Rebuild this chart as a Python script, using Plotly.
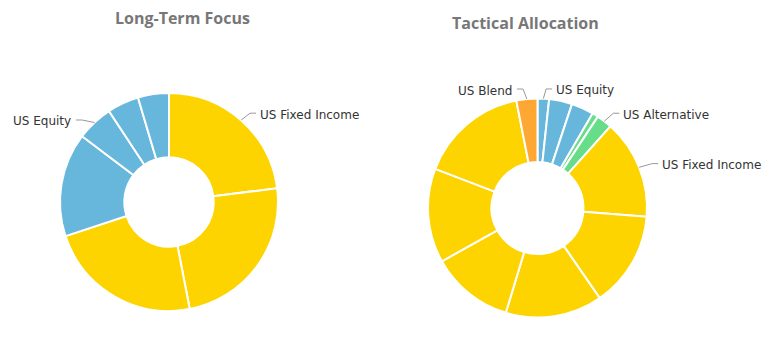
import math
import plotly.graph_objects as go

# ---------------- data ----------------
lt_labels = ["US Fixed Income", "US Fixed Income", "US Fixed Income",
             "US Equity", "US Equity", "US Equity", "US Equity"]
lt_values = [23.0, 24.0, 23.0, 15.4, 5.4, 4.7, 4.6]

ta_labels = ["US Equity", "US Equity", "US Equity",
             "US Alternative", "US Alternative",
             "US Fixed Income", "US Fixed Income", "US Fixed Income",
             "US Fixed Income", "US Fixed Income", "US Fixed Income",
             "US Blend"]
ta_values = [1.7, 3.4, 3.3, 0.9, 2.3, 14.7, 14.1, 14.3, 12.25, 13.9, 16.1, 3.1]

category_colors = {
    "US Fixed Income": "#fdd400",
    "US Equity": "#67b7dc",
    "US Alternative": "#67dd8a",
    "US Blend": "#ffa733",
}

# ---------------- layout helpers ----------------
W, H = 778, 339
charts = [
    dict(title="Long-Term Focus", labels=lt_labels, values=lt_values,
         cx=169, cy=202, r=109, hole=0.41, title_pos=(182, 18),
         # (slice index, label offset dx, dy from the slice's outer edge, side)
         callouts=[(0, 19, -7, 1), (4, -22.5, -2.5, -1)]),
    dict(title="Tactical Allocation", labels=ta_labels, values=ta_values,
         cx=537.5, cy=208, r=109.5, hole=0.42, title_pos=(525, 23),
         callouts=[(0, 12.8, -9.7, 1), (4, 19, -8, 1), (5, 23, -3.7, 1),
                   (11, -13.8, -10, -1)]),
]


def px(x):
    return x / W


def py(y):
    return 1 - y / H


fig = go.Figure()
annotations = []
shapes = []

for ch in charts:
    cx, cy, r = ch["cx"], ch["cy"], ch["r"]
    fig.add_trace(go.Pie(
        labels=[f"{l} {i}" for i, l in enumerate(ch["labels"])],
        values=ch["values"],
        sort=False, direction="clockwise", rotation=0,
        hole=ch["hole"],
        marker=dict(colors=[category_colors[l] for l in ch["labels"]],
                    line=dict(color="white", width=2)),
        textinfo="none", hoverinfo="skip", showlegend=False,
        domain=dict(x=[px(cx - r), px(cx + r)], y=[py(cy + r), py(cy - r)]),
    ))
    tx, ty = ch["title_pos"]
    annotations.append(dict(
        x=px(tx), y=py(ty), xref="paper", yref="paper", showarrow=False,
        text="<b>" + ch["title"] + "</b>", xanchor="center", yanchor="middle",
        font=dict(family="Open Sans", size=16, color="#777777")))

    total = sum(ch["values"])
    cum = [0]
    for v in ch["values"]:
        cum.append(cum[-1] + v)
    for idx, dx, dy, side in ch["callouts"]:
        mid = (cum[idx] + cum[idx + 1]) / 2 / total * 2 * math.pi
        ex = cx + r * math.sin(mid)
        ey = cy - r * math.cos(mid)
        lx, ly = ex + dx, ey + dy
        bx = lx - side * 10
        endx = lx - side * 4
        shapes.append(dict(
            type="path", xref="paper", yref="paper",
            path=f"M {px(ex)},{py(ey)} L {px(bx)},{py(ly)} L {px(endx)},{py(ly)}",
            line=dict(color="#999999", width=1)))
        annotations.append(dict(
            x=px(lx), y=py(ly + 1.5), xref="paper", yref="paper", showarrow=False,
            xshift=-2 if side > 0 else 1,
            text=ch["labels"][idx], xanchor="left" if side > 0 else "right",
            yanchor="middle",
            font=dict(family="DejaVu Sans", size=12, color="#333333")))

fig.update_layout(
    width=W, height=H, margin=dict(l=0, r=0, t=0, b=0),
    paper_bgcolor="white", plot_bgcolor="white",
    annotations=annotations, shapes=shapes,
)

fig.write_html("out.html")
